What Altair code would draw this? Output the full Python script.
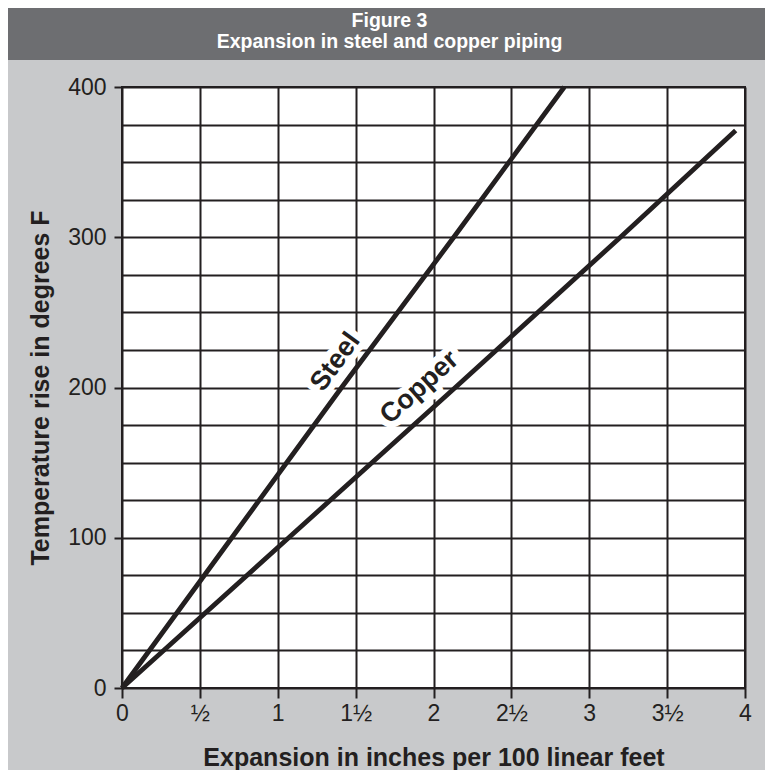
import json
import altair as alt
import pandas as pd

# ---------------- data ----------------
steel_temp = [0, 100, 200, 300, 400]
steel_exp = [0, 0.705, 1.41, 2.13, 2.84]
copper_temp = [0, 100, 200, 300, 371]
copper_exp = [0, 1.07, 2.14, 3.20, 3.94]

x_tick_values = [0, 0.5, 1, 1.5, 2, 2.5, 3, 3.5, 4]
x_tick_labels = ["0", "½", "1", "1½", "2", "2½", "3", "3½", "4"]
y_grid_values = [0, 25, 50, 75, 100, 125, 150, 175, 200, 225, 250, 275, 300, 325, 350, 375, 400]
y_label_values = [0, 100, 200, 300, 400]

label_text = ["Steel", "Copper"]
label_exp = [1.37, 1.91]
label_temp = [217, 200]
label_angle = [306, 318]

header_lines = ["Figure 3", "Expansion in steel and copper piping"]
x_title = "Expansion in inches per 100 linear feet"
y_title = "Temperature rise in degrees F"

# ---------------- styling ----------------
INK = "#231f20"
PANEL = "#c8c9cb"
HEADER = "#6d6e71"
FONT = "Liberation Sans, Arial, Helvetica, sans-serif"

W, H = 623, 601

lines_df = pd.DataFrame(
    {"series": ["Steel"] * len(steel_temp) + ["Copper"] * len(copper_temp),
     "exp": steel_exp + copper_exp,
     "temp": steel_temp + copper_temp,
     "order": list(range(len(steel_temp))) + list(range(len(copper_temp)))}
)
labels_df = pd.DataFrame({"text": label_text, "exp": label_exp, "temp": label_temp, "angle": label_angle})

x_label_expr = json.dumps(x_tick_labels, ensure_ascii=False) + "[round(datum.value * 2)]"
y_test = "indexof(" + json.dumps(y_label_values) + ", datum.value) >= 0"
y_label_expr = y_test + " ? datum.label : ''"

x_enc = alt.X(
    "exp:Q",
    scale=alt.Scale(domain=[0, 4], nice=False, zero=False),
    axis=alt.Axis(
        values=x_tick_values, labelExpr=x_label_expr, title=x_title,
        grid=True, gridColor=INK, gridWidth=2, gridOpacity=1,
        domain=False, ticks=True, tickSize=10, tickColor=INK, tickWidth=2,
        labelFont=FONT, labelFontSize=23, labelColor=INK, labelPadding=4,
        labelFlush=False, labelOverlap=False,
        titleFont=FONT, titleFontSize=25, titleFontWeight="bold", titleColor=INK,
        titleX=W / 2, titleY=77, titleBaseline="alphabetic", titleAnchor="middle",
    ),
)
y_enc = alt.Y(
    "temp:Q",
    scale=alt.Scale(domain=[0, 400], nice=False),
    axis=alt.Axis(
        values=y_grid_values, labelExpr=y_label_expr, title=y_title,
        grid=True, gridColor=INK, gridWidth=2, gridOpacity=1,
        domain=False, ticks=True, tickSize=8, tickColor=INK, tickWidth=2,
        tickOpacity={"condition": {"test": y_test, "value": 1}, "value": 0},
        labelFont=FONT, labelFontSize=23, labelColor=INK, labelPadding=8,
        labelFlush=False, labelOverlap=False,
        titleFont=FONT, titleFontSize=25, titleFontWeight="bold", titleColor=INK,
        titleAngle=270, titleX=-74, titleY=H / 2, titleBaseline="alphabetic", titleAnchor="middle",
    ),
)

one = pd.DataFrame({"k": [0]})

header_bar = alt.Chart(one).mark_rect(color=HEADER).encode(
    x=alt.value(-114), x2=alt.value(643), y=alt.value(-79), y2=alt.value(-27)
)
header_1 = alt.Chart(one).mark_text(
    text=header_lines[0], font=FONT, fontSize=19.5, fontWeight="bold", color="white",
    align="center", baseline="alphabetic",
).encode(x=alt.value(267.5), y=alt.value(-60))
header_2 = alt.Chart(one).mark_text(
    text=header_lines[1], font=FONT, fontSize=19.5, fontWeight="bold", color="white",
    align="center", baseline="alphabetic",
).encode(x=alt.value(267.5), y=alt.value(-39))

halo = alt.Chart(labels_df).mark_text(
    font=FONT, fontSize=27, fontWeight="bold", color="white", stroke="white",
    strokeWidth=13, strokeJoin="round", align="center", baseline="middle",
).encode(x=x_enc, y=y_enc, text="text:N", angle=alt.Angle("angle:Q", scale=None))

lines = alt.Chart(lines_df).mark_line(color=INK, strokeWidth=4.8, strokeCap="butt").encode(
    x=x_enc, y=y_enc, detail="series:N", order="order:Q"
)

label = alt.Chart(labels_df).mark_text(
    font=FONT, fontSize=27, fontWeight="bold", color=INK, align="center", baseline="middle",
).encode(x=x_enc, y=y_enc, text="text:N", angle=alt.Angle("angle:Q", scale=None))

chart = alt.layer(header_bar, header_1, header_2, halo, lines, label).properties(
    width=W, height=H,
    autosize=alt.AutoSizeParams(type="none"),
    padding={"left": 114, "top": 79, "right": 20, "bottom": 82},
    background=PANEL,
).configure_view(fill="white", stroke=INK, strokeWidth=2)

chart.save("out.html", embed_options={"renderer": "svg", "actions": False})
